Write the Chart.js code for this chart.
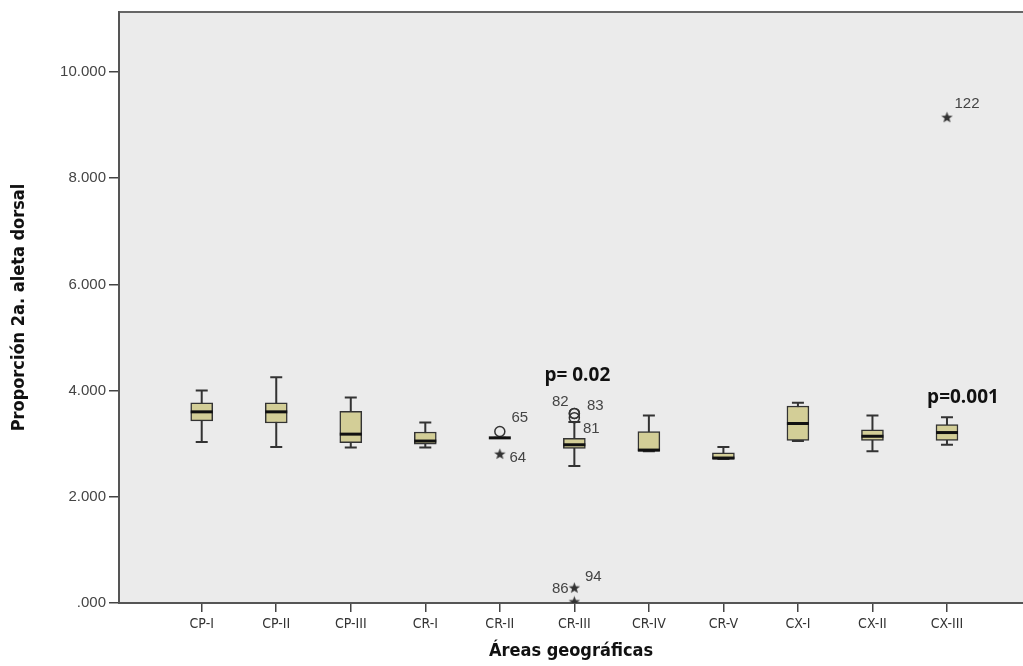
<!DOCTYPE html>
<html>
<head>
<meta charset="utf-8">
<script src="https://cdn.jsdelivr.net/npm/chart.js@4/dist/chart.umd.min.js"></script>
<style>
  body { margin: 0; background: #fff; }
  #wrap { width: 1023px; height: 666px; }
</style>
</head>
<body>
<div id="wrap"><canvas id="boxChart" width="1023" height="666"></canvas></div>
<script>
// data
const categories = ['CP-I', 'CP-II', 'CP-III', 'CR-I', 'CR-II', 'CR-III', 'CR-IV', 'CR-V', 'CX-I', 'CX-II', 'CX-III'];
const whiskerLow  = [3.03, 2.94, 2.93, 2.93, 3.11, 2.58, 2.86, 2.71, 3.05, 2.86, 2.98];
const q1          = [3.43, 3.39, 3.02, 2.99, 3.11, 2.91, 2.86, 2.71, 3.06, 3.06, 3.06];
const median      = [3.60, 3.60, 3.18, 3.05, 3.11, 2.98, 2.88, 2.73, 3.38, 3.14, 3.21];
const q3          = [3.77, 3.77, 3.61, 3.22, 3.11, 3.10, 3.23, 2.83, 3.71, 3.26, 3.36];
const whiskerHigh = [4.00, 4.25, 3.87, 3.40, 3.11, 3.41, 3.53, 2.94, 3.77, 3.53, 3.50];

// outliers: category index, value, case id
const circleCat = [4, 5, 5, 5];
const circleVal = [3.23, 3.57, 3.57, 3.49];
const circleId  = ['65', '82', '83', '81'];
const starCat = [4, 5, 5, 10];
const starVal = [2.80, 0.28, 0.02, 9.14];
const starId  = ['64', '86', '94', '122'];

const yTicks = [0, 2, 4, 6, 8, 10];
const pNotes = [{ cat: 5, v: 4.29, text: 'p= 0.02' }, { cat: 10, v: 3.87, text: 'p=0.001' }];

// label placement (px offsets from the marker)
const labelOffset = {
  '65': [20, -14], '82': [-14, -12], '83': [21, -8], '81': [17, 11],
  '64': [18, 4], '86': [-14, 1], '94': [19, -25], '122': [20, -14]
};

const INK = '#333';
const BOX_FILL = '#d3ce97';
const NARROW = '"DejaVu Sans Condensed", "Liberation Sans Narrow", "Liberation Sans", Arial';

// small filled star for extreme values
const starImg = document.createElement('canvas');
starImg.width = 13; starImg.height = 13;
(function () {
  const c = starImg.getContext('2d');
  c.fillStyle = INK;
  c.beginPath();
  for (let i = 0; i < 10; i++) {
    const r = i % 2 === 0 ? 6 : 2.5;
    const a = -Math.PI / 2 + i * Math.PI / 5;
    const px = 6.5 + r * Math.cos(a), py = 6.5 + r * Math.sin(a);
    i === 0 ? c.moveTo(px, py) : c.lineTo(px, py);
  }
  c.closePath();
  c.fill();
})();

const boxPlugin = {
  id: 'boxParts',
  beforeDraw(chart) {
    const { ctx, chartArea: a } = chart;
    ctx.save();
    ctx.fillStyle = '#ebebeb';
    ctx.fillRect(a.left, a.top, a.right - a.left, a.bottom - a.top);
    ctx.strokeStyle = '#666';
    ctx.lineWidth = 2;
    ctx.beginPath();
    ctx.moveTo(a.left, a.top);
    ctx.lineTo(a.right, a.top);
    ctx.stroke();
    ctx.restore();
  },
  beforeDatasetsDraw(chart) {
    const { ctx, scales: { x, y } } = chart;
    ctx.save();
    ctx.strokeStyle = INK;
    ctx.lineWidth = 2;
    categories.forEach((c, i) => {
      const cx = x.getPixelForValue(i);
      const lo = y.getPixelForValue(whiskerLow[i]);
      const hi = y.getPixelForValue(whiskerHigh[i]);
      ctx.beginPath();
      ctx.moveTo(cx, lo); ctx.lineTo(cx, hi);
      ctx.moveTo(cx - 6, lo); ctx.lineTo(cx + 6, lo);
      ctx.moveTo(cx - 6, hi); ctx.lineTo(cx + 6, hi);
      ctx.stroke();
    });
    ctx.restore();
  },
  afterDatasetsDraw(chart) {
    const { ctx, scales: { x, y } } = chart;
    ctx.save();
    ctx.strokeStyle = '#111';
    ctx.lineWidth = 3;
    categories.forEach((c, i) => {
      const cx = x.getPixelForValue(i);
      const m = y.getPixelForValue(median[i]);
      ctx.beginPath();
      ctx.moveTo(cx - 11, m); ctx.lineTo(cx + 11, m);
      ctx.stroke();
    });
    // case labels
    ctx.fillStyle = '#444';
    ctx.font = '15px "Liberation Sans", Arial, sans-serif';
    ctx.textAlign = 'center';
    ctx.textBaseline = 'middle';
    const put = (cat, v, id) => {
      const off = labelOffset[id] || [14, -10];
      ctx.fillText(id, x.getPixelForValue(cat) + off[0], y.getPixelForValue(v) + off[1]);
    };
    circleId.forEach((id, k) => put(circleCat[k], circleVal[k], id));
    starId.forEach((id, k) => put(starCat[k], starVal[k], id));
    // p-values
    ctx.fillStyle = '#111';
    ctx.font = 'bold 19px "Open Sans", "Liberation Sans", sans-serif';
    pNotes.forEach((p, k) => {
      const dx = k === 1 ? 16 : 3;
      ctx.fillText(p.text, x.getPixelForValue(p.cat) + dx, y.getPixelForValue(p.v));
    });
    ctx.restore();
  }
};

const config = {
  type: 'bar',
  data: {
    datasets: [
      {
        type: 'bar',
        data: categories.map((c, i) => ({ x: i, y: [q1[i], q3[i]] })),
        backgroundColor: BOX_FILL,
        borderColor: INK,
        borderWidth: 1.5,
        borderSkipped: false,
        barThickness: 22,
        order: 2
      },
      {
        type: 'scatter',
        data: circleCat.map((c, k) => ({ x: c, y: circleVal[k] })),
        pointStyle: 'circle',
        pointRadius: 5,
        backgroundColor: 'rgba(0,0,0,0)',
        borderColor: INK,
        borderWidth: 1.5,
        order: 1
      },
      {
        type: 'scatter',
        data: starCat.map((c, k) => ({ x: c, y: starVal[k] })),
        pointStyle: starImg,
        order: 1
      }
    ]
  },
  options: {
    responsive: false,
    animation: false,
    layout: { autoPadding: false, padding: { top: 11, right: 0, left: 0, bottom: 0 } },
    plugins: { legend: { display: false }, tooltip: { enabled: false } },
    scales: {
      x: {
        type: 'linear',
        min: -1.11,
        max: 11.02,
        offset: false,
        afterBuildTicks: (axis) => { axis.ticks = categories.map((c, i) => ({ value: i })); },
        afterFit: (axis) => { axis.height = 63; },
        ticks: {
          callback: (v) => categories[v],
          color: '#333',
          font: { family: NARROW, size: 14 },
          padding: 4,
          maxRotation: 0,
          autoSkip: false
        },
        grid: { offset: false, drawOnChartArea: false, drawTicks: true, tickLength: 9, color: '#444', lineWidth: 1.5 },
        border: { display: true, color: '#555', width: 2 },
        title: {
          display: true,
          text: 'Áreas geográficas',
          color: '#111',
          font: { family: NARROW, size: 18, weight: 'bold' },
          padding: { top: 5 }
        }
      },
      y: {
        type: 'linear',
        min: 0,
        max: 11.13,
        afterBuildTicks: (axis) => { axis.ticks = yTicks.map(v => ({ value: v })); },
        afterFit: (axis) => { axis.width = 119; },
        ticks: {
          callback: (v) => v === 0 ? '.000' : v.toFixed(3),
          color: '#444',
          font: { family: '"Liberation Sans", Arial', size: 15 },
          padding: 3
        },
        grid: { drawOnChartArea: false, drawTicks: true, tickLength: 10, color: '#444', lineWidth: 1.5 },
        border: { display: true, color: '#555', width: 2 },
        title: {
          display: true,
          text: 'Proporción 2a. aleta dorsal',
          color: '#111',
          font: { family: NARROW, size: 18, weight: 'bold' },
          padding: { top: 9, bottom: 0 }
        }
      }
    }
  },
  plugins: [boxPlugin]
};

const boxChart = new Chart(document.getElementById('boxChart'), config);
</script>
</body>
</html>
